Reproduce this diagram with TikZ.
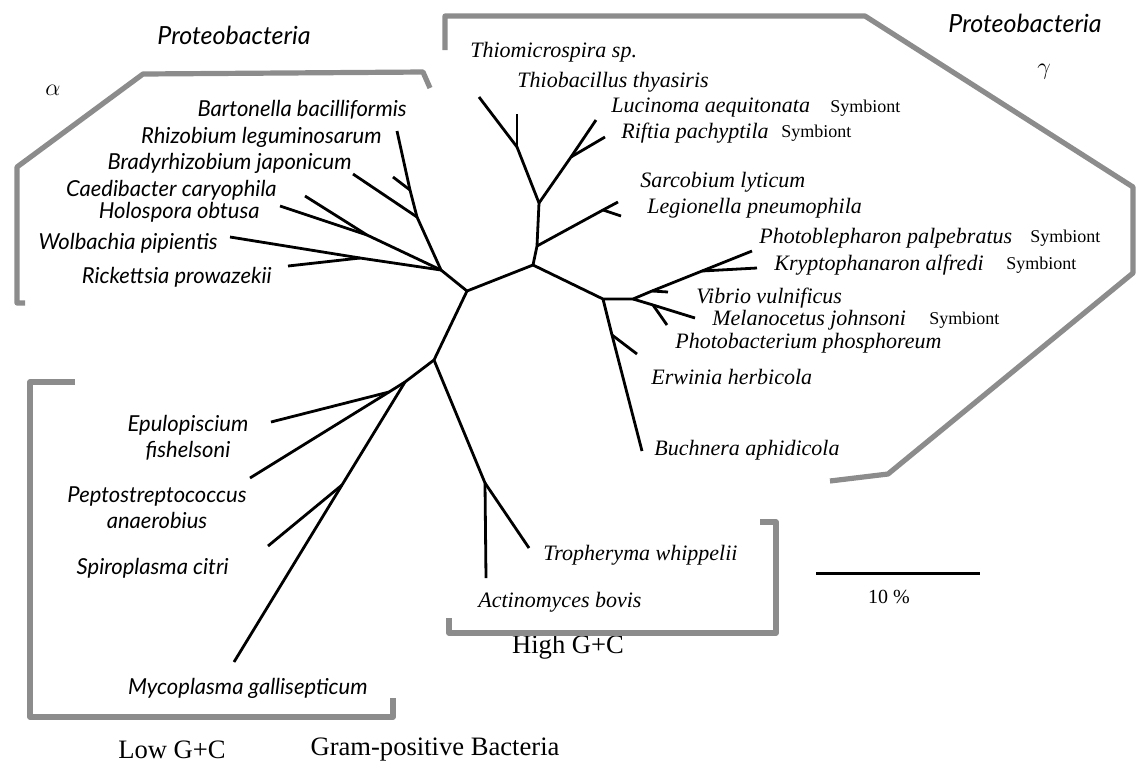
\documentclass[tikz,border=0pt]{standalone}
\usepackage{fontspec}
\setmainfont{Liberation Serif}
\newfontfamily\optima{Lato}
\begin{document}
\begin{tikzpicture}[x=0.5pt,y=-0.5pt,
  branch/.style={line width=1.4pt,line join=round},
  bracket/.style={line width=2.6pt,draw=black!45,line join=round},
  gname/.style={inner sep=0pt,font=\fontsize{11}{13}\selectfont\itshape},
  aname/.style={inner sep=0pt,font=\fontsize{11}{13}\selectfont\optima\itshape},
  symb/.style={inner sep=0pt,font=\fontsize{9}{11}\selectfont},
  group/.style={inner sep=0pt,font=\fontsize{13.3}{15}\selectfont}]
\useasboundingbox (0,0) rectangle (1137,768);

\def\symbiont(#1,#2,#3){
  \node[symb,anchor=west] (#1) at (#2,#3) {Symbiont};
}

\coordinate (root) at (467,291);
\coordinate (al) at (441,270);
\coordinate (ga) at (533,265);
\coordinate (gp) at (434,360);

% alpha
\coordinate (bradyj) at (417,217);
\coordinate (rhizj) at (410,190);
\coordinate (bartt) at (397,131);
\coordinate (rhizt) at (393,177);
\coordinate (bradyt) at (353,174);
\coordinate (caedj) at (367,235);
\coordinate (caedt) at (305,196);
\coordinate (holot) at (280,206);
\coordinate (rickj) at (360,258);
\coordinate (wolbt) at (230,237);
\coordinate (rickt) at (288,266);

% gamma
\coordinate (gb) at (537,246);
\coordinate (gc) at (539,203);
\coordinate (thioj) at (517,147);
\coordinate (thiomt) at (479,97);
\coordinate (thiobt) at (517,114);
\coordinate (riftj) at (571,157);
\coordinate (lucit) at (596,120);
\coordinate (riftt) at (605,137);
\coordinate (legioj) at (603,210);
\coordinate (sarcot) at (618,202);
\coordinate (legiot) at (621,216);
\coordinate (vib0) at (603,299);
\coordinate (vib1) at (633,299);
\coordinate (kryj) at (702,271);
\coordinate (photot) at (752,251);
\coordinate (kryt) at (757,268);
\coordinate (vibj) at (652,291);
\coordinate (vibt) at (668,292);
\coordinate (melj) at (653,305);
\coordinate (melt) at (695,318);
\coordinate (melk) at (667,325);
\coordinate (pbj) at (612,335);
\coordinate (pbt) at (637,354);
\coordinate (bucht) at (642,451);

% gram-positive
\coordinate (lgc) at (405,382);
\coordinate (epuj) at (389,392);
\coordinate (eput) at (271,422);
\coordinate (pept) at (250,478);
\coordinate (spij) at (342,485);
\coordinate (spit) at (268,546);
\coordinate (mycot) at (234,662);
\coordinate (hgc) at (485,483);
\coordinate (actit) at (486,578);
\coordinate (tropt) at (529,548);

\draw[branch] (al) -- (root) -- (ga);
\draw[branch] (root) -- (gp);

\draw[branch] (al) -- (bradyj) -- (rhizj) -- (bartt);
\draw[branch] (rhizj) -- (rhizt);
\draw[branch] (bradyj) -- (bradyt);
\draw[branch] (al) -- (caedj) -- (caedt);
\draw[branch] (caedj) -- (holot);
\draw[branch] (al) -- (rickj) -- (wolbt);
\draw[branch] (rickj) -- (rickt);

\draw[branch] (ga) -- (gb) -- (gc) -- (thioj) -- (thiomt);
\draw[branch] (thioj) -- (thiobt);
\draw[branch] (gc) -- (riftj) -- (lucit);
\draw[branch] (riftj) -- (riftt);
\draw[branch] (gb) -- (legioj) -- (sarcot);
\draw[branch] (legioj) -- (legiot);
\draw[branch] (ga) -- (vib0) -- (vib1) -- (vibj) -- (kryj) -- (photot);
\draw[branch] (kryj) -- (kryt);
\draw[branch] (vibj) -- (vibt);
\draw[branch] (vib1) -- (melj) -- (melt);
\draw[branch] (melj) -- (melk);
\draw[branch] (vib0) -- (pbj) -- (bucht);
\draw[branch] (pbj) -- (pbt);

\draw[branch] (gp) -- (lgc) -- (epuj) -- (pept);
\draw[branch] (epuj) -- (eput);
\draw[branch] (lgc) -- (spij) -- (mycot);
\draw[branch] (spij) -- (spit);
\draw[branch] (gp) -- (hgc) -- (actit);
\draw[branch] (hgc) -- (tropt);

\node[aname,anchor=east] (bart) at (407,110) {Bartonella bacilliformis};
\node[aname,anchor=east] (rhiz) at (382,137) {Rhizobium leguminosarum};
\node[aname,anchor=east] (brady) at (352,163) {Bradyrhizobium japonicum};
\node[aname,anchor=east] (caed) at (277,190) {Caedibacter caryophila};
\node[aname,anchor=east] (holo) at (260,212) {Holospora obtusa};
\node[aname,anchor=east] (wolb) at (218,243) {Wolbachia pipientis};
\node[aname,anchor=east] (rick) at (272,277) {Rickettsia prowazekii};

\node[gname,anchor=west] (thiom) at (470,52) {Thiomicrospira sp.};
\node[gname,anchor=west] (thiob) at (517,82) {Thiobacillus thyasiris};
\node[gname,anchor=west] (luci) at (611,108) {Lucinoma aequitonata};
\symbiont(lucis,830,108)
\node[gname,anchor=west] (rift) at (621,133) {Riftia pachyptila};
\symbiont(rifts,781,133)
\node[gname,anchor=west] (sarco) at (640,182) {Sarcobium lyticum};
\node[gname,anchor=west] (legio) at (647,208) {Legionella pneumophila};
\node[gname,anchor=west] (photo) at (759,238) {Photoblepharon palpebratus};
\symbiont(photos,1030,238)
\node[gname,anchor=west] (kry) at (774,265) {Kryptophanaron alfredi};
\symbiont(krys,1006,265)
\node[gname,anchor=west] (vib) at (696,298) {Vibrio vulnificus};
\node[gname,anchor=west] (mel) at (712,320) {Melanocetus johnsoni};
\symbiont(mels,929,320)
\node[gname,anchor=west] (pb) at (675,343) {Photobacterium phosphoreum};
\node[gname,anchor=west] (erw) at (651,377) {Erwinia herbicola};
\node[gname,anchor=west] (buch) at (654,450) {Buchnera aphidicola};

\node[gname,anchor=west] (trop) at (543,555) {Tropheryma whippelii};
\node[gname,anchor=west] (acti) at (478,602) {Actinomyces bovis};

\node[aname,align=center] (epu) at (188,438) {Epulopiscium\\fishelsoni};
\node[aname,align=center] (pep) at (157,508) {Peptostreptococcus\\anaerobius};
\node[aname,anchor=east] (spi) at (229,568) {Spiroplasma citri};
\node[aname,anchor=east] (myco) at (368,688) {Mycoplasma gallisepticum};

\node[aname,font=\fontsize{12.5}{14}\selectfont\optima\itshape] (protl) at (234,35) {Proteobacteria};
\node[group,font=\fontsize{12}{14}\selectfont] (alpha) at (53,90) {$\alpha$};
\node[aname,font=\fontsize{12.5}{14}\selectfont\optima\itshape] (protr) at (1025,23) {Proteobacteria};
\node[group,font=\fontsize{12}{14}\selectfont] (gamma) at (1044,72) {$\gamma$};

\node[group] (lowgc) at (172,750) {Low G+C};
\node[group] (gram) at (435,750) {Gram-positive Bacteria};
\node[group] (highgc) at (568,647) {High G+C};

\coordinate (sb1) at (816,573);
\coordinate (sb2) at (980,573);
\draw[line width=1.5pt] (sb1) -- (sb2);
\node[symb,font=\fontsize{10}{12}\selectfont] (scale) at (889,597) {10 \%};

\draw[bracket] (430,88) -- (423,72) -- (143,74) -- (17,167) -- (17,303) -- (25,303);
\draw[bracket] (445,50) -- (445,16) -- (865,16) -- (1133,187) -- (1133,273) -- (888,474) -- (830,481);
\draw[bracket] (75,382) -- (30,382) -- (30,717) -- (393,717) -- (393,698);
\draw[bracket] (449,618) -- (449,633) -- (776,633) -- (776,522) -- (760,522);

\end{tikzpicture}
\end{document}
